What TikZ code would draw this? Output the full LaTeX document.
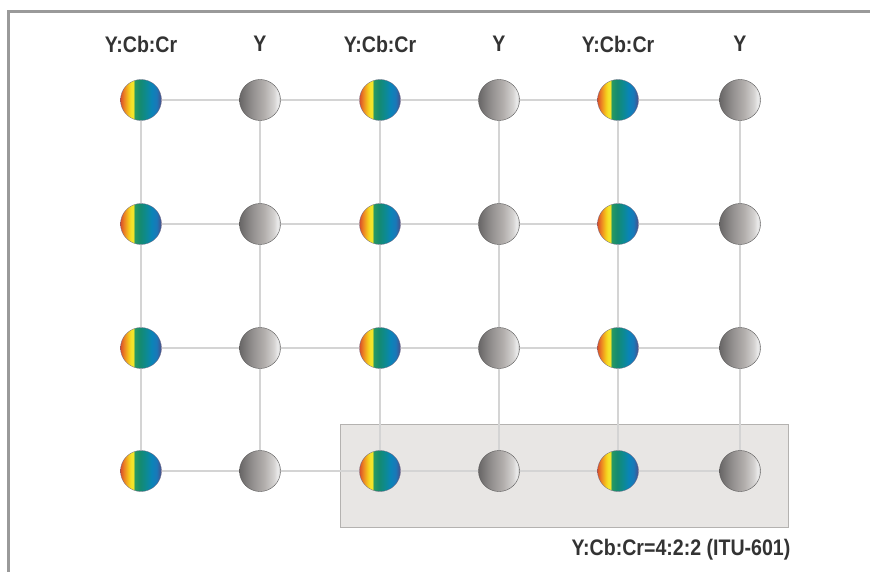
\documentclass[tikz,border=0pt]{standalone}
\usepackage{fontspec}
\setmainfont{Liberation Sans}
\newfontfamily\condf[FakeStretch=0.87]{Liberation Sans}
\usetikzlibrary{backgrounds}
\definecolor{cA}{HTML}{D8502A}
\definecolor{cB}{HTML}{EE8A22}
\definecolor{cC}{HTML}{F5C81C}
\definecolor{cD}{HTML}{F4E42A}
\definecolor{cE}{HTML}{2A9A60}
\definecolor{cF}{HTML}{148A70}
\definecolor{cG}{HTML}{0D8A90}
\definecolor{cH}{HTML}{0A84B8}
\definecolor{cI}{HTML}{1A78B8}
\definecolor{cJ}{HTML}{3A5C98}
\definecolor{cK}{HTML}{5A4E86}
\definecolor{gA}{HTML}{686666}
\definecolor{gB}{HTML}{918E8D}
\definecolor{gC}{HTML}{B2AEAC}
\definecolor{gD}{HTML}{D4D2D1}
\definecolor{gE}{HTML}{EEEEEE}
\definecolor{gF}{HTML}{BEBEBE}
\definecolor{txt}{HTML}{333333}
\definecolor{gridc}{HTML}{D4D4D4}
\definecolor{framec}{HTML}{9A9A9A}
\definecolor{boxfill}{HTML}{E8E6E4}
\definecolor{boxline}{HTML}{B4B2B0}
\pgfdeclarehorizontalshading{chroma}{100bp}{color(0bp)=(cA); color(25bp)=(cA); color(30bp)=(cB); color(35bp)=(cC); color(38bp)=(cD); color(41bp)=(cD); color(42bp)=(cE); color(49bp)=(cF); color(56bp)=(cG); color(63bp)=(cH); color(69bp)=(cI); color(73bp)=(cJ); color(75bp)=(cK); color(100bp)=(cK)}
\pgfdeclarehorizontalshading{luma}{100bp}{color(0bp)=(gA); color(25bp)=(gA); color(40bp)=(gB); color(55bp)=(gC); color(67bp)=(gD); color(72bp)=(gE); color(75bp)=(gF); color(100bp)=(gF)}
\tikzset{
  lbl/.style={text=txt, font=\condf\fontsize{22.5}{26}\selectfont\bfseries, inner sep=0pt},
  chromadot/.style={circle, minimum size=41pt, inner sep=0pt, shading=chroma, draw=cK!50!gray, line width=0.3pt},
  lumadot/.style={circle, minimum size=41pt, inner sep=0pt, shading=luma, draw=gA!85!black, line width=0.4pt},
  gridline/.style={draw=gridc, line width=1.6pt},
}
\begin{document}
\begin{tikzpicture}[x=1pt,y=-1pt]
\useasboundingbox (0,0) rectangle (870,572);
\draw[framec, line width=2.6pt] (870,11.5) -- (8.5,11.5) -- (8.5,572);
% labels
\foreach \c/\x/\t in {1/141/Y:Cb:Cr,2/260/Y,3/380/Y:Cb:Cr,4/499/Y,5/618/Y:Cb:Cr,6/740/Y}
  \node[lbl] (h\c) at (\x,44) {\t};
% dots
\foreach \r/\y in {1/100,2/224,3/348,4/471}{
  \foreach \c/\x in {1/141,3/380,5/618}
    \node[chromadot] (n\r\c) at (\x,\y) {};
  \foreach \c/\x in {2/260,4/499,6/740}
    \node[lumadot] (n\r\c) at (\x,\y) {};
}
\begin{scope}[on background layer]
  \node[draw=boxline, fill=boxfill, line width=1pt, minimum width=448pt, minimum height=103pt, inner sep=0pt] (box) at (564,475.5) {};
  \foreach \r in {1,2,3,4}
    \foreach \a/\b in {1/2,2/3,3/4,4/5,5/6}
      \draw[gridline] (n\r\a) -- (n\r\b);
  \foreach \c in {1,...,6}
    \foreach \a/\b in {1/2,2/3,3/4}
      \draw[gridline] (n\a\c) -- (n\b\c);
\end{scope}
\node[lbl] (cap) at (681,550) {Y:Cb:Cr=4:2:2 (ITU-601)};
\end{tikzpicture}
\end{document}
